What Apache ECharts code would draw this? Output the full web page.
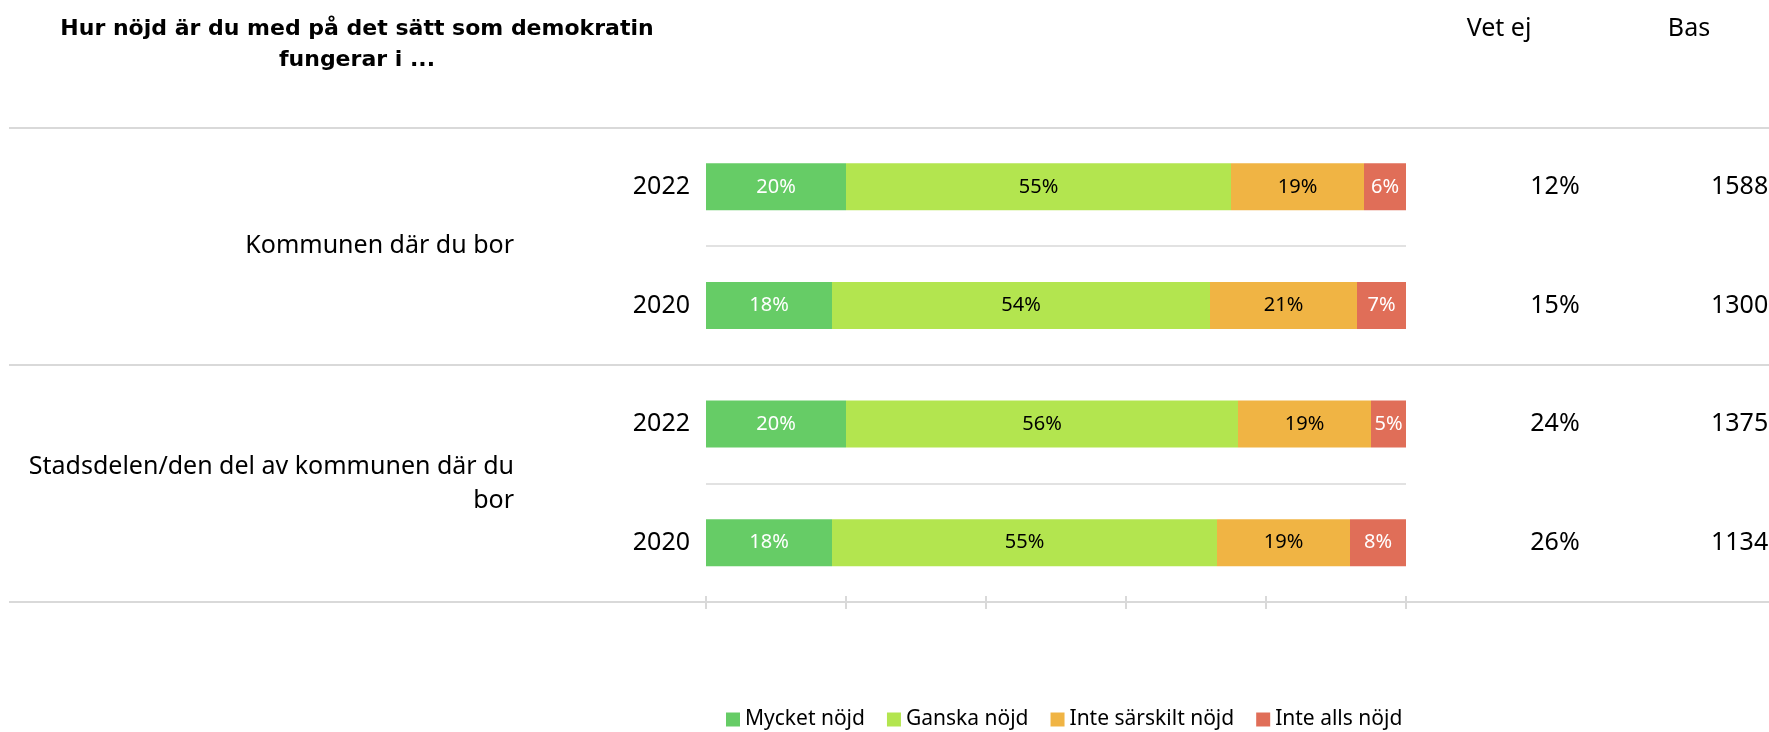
<!DOCTYPE html>
<html>
<head>
<meta charset="utf-8">
<script src="https://cdn.jsdelivr.net/npm/echarts@6/dist/echarts.min.js"></script>
<style>
  html, body { margin: 0; padding: 0; background: #fff; }
  #main { width: 1769px; height: 732px; }
</style>
</head>
<body>
<div id="main"></div>
<script>
const groups = ['Kommunen där du bor', 'Stadsdelen/den del av kommunen där du\nbor']
const years = ['2022', '2020', '2022', '2020']
const seriesNames = ['Mycket nöjd', 'Ganska nöjd', 'Inte särskilt nöjd', 'Inte alls nöjd']
const mycketNojd = [20, 18, 20, 18]
const ganskaNojd = [55, 54, 56, 55]
const inteSarskiltNojd = [19, 21, 19, 19]
const inteAllsNojd = [6, 7, 5, 8]
const vetEj = [12, 15, 24, 26]
const bas = [1588, 1300, 1375, 1134]

const colors = ['#66cc66', '#b3e54f', '#f0b444', '#e06e58']
const labelColors = ['#ffffff', '#000000', '#000000', '#ffffff']
const values = [mycketNojd, ganskaNojd, inteSarskiltNojd, inteAllsNojd]
const font = 'Noto Sans'
const gridLine = '#d9d9d9'

const chart = echarts.init(document.getElementById('main'))

const series = seriesNames.map((name, i) => {
  return {
    name,
    type: 'bar',
    stack: 'total',
    barWidth: 47,
    xAxisIndex: 0,
    yAxisIndex: 0,
    itemStyle: { color: colors[i] },
    label: {
      show: true,
      position: 'inside',
      formatter: '{c}%',
      color: labelColors[i],
      fontFamily: font,
      fontSize: 20
    },
    emphasis: { disabled: true },
    data: values[i]
  }
})

const headerStyle = { fontFamily: font, fontWeight: 'normal', fontSize: 25, lineHeight: 25, color: '#000' }

const option = {
  animation: false,
  color: colors,
  title: [{
    text: 'Hur nöjd är du med på det sätt som demokratin\nfungerar i ...',
    left: 357,
    top: 14,
    padding: 0,
    textAlign: 'center',
    textStyle: {
      fontFamily: 'DejaVu Sans',
      fontWeight: 'bold',
      fontSize: 22,
      lineHeight: 31,
      color: '#000'
    }
  }, {
    text: 'Vet ej',
    left: 1499,
    top: 16,
    padding: 0,
    textAlign: 'center',
    textStyle: headerStyle
  }, {
    text: 'Bas',
    left: 1689,
    top: 16,
    padding: 0,
    textAlign: 'center',
    textStyle: headerStyle
  }],
  legend: {
    data: seriesNames,
    left: 726,
    top: 709,
    padding: 0,
    icon: 'rect',
    itemWidth: 14,
    itemHeight: 14,
    itemGap: 22,
    selectedMode: false,
    textStyle: { fontFamily: font, fontSize: 21, color: '#000' }
  },
  grid: [{
    left: 706,
    right: 363,
    top: 127.5,
    bottom: 130,
    outerBoundsMode: 'none',
    containLabel: false
  }, {
    left: 9,
    right: 0,
    top: 127.5,
    bottom: 130,
    outerBoundsMode: 'none',
    containLabel: false
  }],
  xAxis: [{
    gridIndex: 0,
    type: 'value',
    min: 0,
    max: 100,
    interval: 20,
    offset: -6,
    axisLine: { show: false },
    axisTick: { show: true, length: 13, lineStyle: { color: gridLine, width: 2 } },
    axisLabel: { show: false },
    splitLine: { show: false }
  }, {
    gridIndex: 1,
    type: 'value',
    show: false
  }],
  yAxis: [{
    gridIndex: 0,
    type: 'category',
    inverse: true,
    data: years,
    axisLine: { show: false },
    axisTick: { show: false },
    splitLine: { show: true, lineStyle: { color: gridLine, width: 1.5 } },
    axisLabel: { margin: 16, fontFamily: font, fontSize: 25, color: '#000' }
  }, {
    gridIndex: 0,
    type: 'category',
    position: 'right',
    inverse: true,
    data: years,
    axisLine: { show: false },
    axisTick: { show: false },
    splitLine: { show: false },
    axisLabel: {
      margin: 149,
      align: 'center',
      fontFamily: font,
      fontSize: 25,
      color: '#000',
      formatter: (v, i) => vetEj[i] + '%'
    }
  }, {
    gridIndex: 0,
    type: 'category',
    position: 'right',
    inverse: true,
    data: years,
    axisLine: { show: false },
    axisTick: { show: false },
    splitLine: { show: false },
    axisLabel: {
      margin: 305,
      align: 'left',
      fontFamily: font,
      fontSize: 25,
      color: '#000',
      formatter: (v, i) => String(bas[i])
    }
  }, {
    gridIndex: 1,
    type: 'category',
    inverse: true,
    data: groups,
    axisLine: { show: false },
    axisTick: { show: false },
    splitLine: { show: true, lineStyle: { color: gridLine, width: 2 } },
    axisLabel: {
      margin: -505,
      align: 'right',
      fontFamily: font,
      fontSize: 25,
      lineHeight: 34,
      color: '#000'
    }
  }],
  series
}

chart.setOption(option)
</script>
</body>
</html>
